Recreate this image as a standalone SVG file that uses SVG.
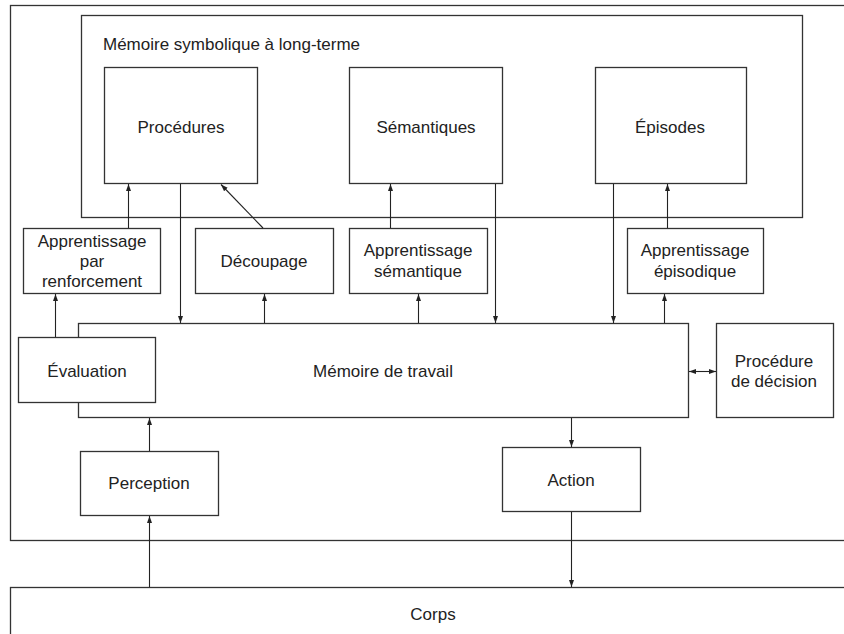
<svg xmlns="http://www.w3.org/2000/svg" width="844" height="634" viewBox="0 0 844 634">
<style>
.box{fill:#fff;stroke:#333;stroke-width:1.3}
.frame{fill:none;stroke:#333;stroke-width:1.3}
text{font-family:"Liberation Sans",Arial,sans-serif;font-size:17px;fill:#222;text-anchor:middle}
.c line{stroke:#222;stroke-width:1.1;marker-end:url(#ah)}
</style>
<defs>
<marker id="ah" markerUnits="userSpaceOnUse" markerWidth="8" markerHeight="6" refX="7" refY="3" orient="auto-start-reverse">
<path d="M0,0.5 L7,3 L0,5.5 z" fill="#222"/>
</marker>
</defs>
<rect x="0" y="0" width="844" height="634" fill="#fff"/>
<g id="systeme"><rect class="frame" x="10.5" y="5.5" width="845" height="535"/></g>
<g id="corps"><rect class="box" x="10.5" y="587.5" width="845" height="60"/><text x="433" y="620">Corps</text></g>
<g id="memoire-long-terme"><rect class="frame" x="81.5" y="15.5" width="721" height="202"/><text x="103" y="50" style="text-anchor:start">Mémoire symbolique à long-terme</text></g>
<g id="procedures"><rect class="box" x="104.5" y="67.5" width="153" height="116"/><text x="181" y="133">Procédures</text></g>
<g id="semantiques"><rect class="box" x="349.5" y="67.5" width="153" height="116"/><text x="426" y="133">Sémantiques</text></g>
<g id="episodes"><rect class="box" x="595.5" y="67.5" width="151" height="116"/><text x="670" y="133">Épisodes</text></g>
<g id="app-renforcement"><rect class="box" x="23.5" y="228.5" width="137" height="65"/><text x="92" y="247">Apprentissage</text><text x="92" y="267">par</text><text x="92" y="287">renforcement</text></g>
<g id="decoupage"><rect class="box" x="195.5" y="228.5" width="138" height="65"/><text x="264" y="267">Découpage</text></g>
<g id="app-semantique"><rect class="box" x="349.5" y="228.5" width="138" height="65"/><text x="418" y="256">Apprentissage</text><text x="418" y="277">sémantique</text></g>
<g id="app-episodique"><rect class="box" x="627.5" y="228.5" width="136" height="65"/><text x="695" y="256">Apprentissage</text><text x="695" y="277">épisodique</text></g>
<g id="memoire-travail"><rect class="box" x="78.5" y="323.5" width="610" height="94"/><text x="383" y="377">Mémoire de travail</text></g>
<g id="evaluation"><rect class="box" x="18.5" y="337.5" width="137" height="65"/><text x="87" y="377">Évaluation</text></g>
<g id="procedure-decision"><rect class="box" x="716.5" y="323.5" width="117" height="94"/><text x="774" y="367">Procédure</text><text x="774" y="387">de décision</text></g>
<g id="perception"><rect class="box" x="80.5" y="451.5" width="138" height="64"/><text x="149" y="489">Perception</text></g>
<g id="action"><rect class="box" x="502.5" y="447.5" width="138" height="64"/><text x="571" y="486">Action</text></g>
<g id="connecteurs" class="c">
<line x1="149.5" y1="451" x2="149.5" y2="418"/>
<line x1="149.5" y1="587" x2="149.5" y2="516"/>
<line x1="571.5" y1="418" x2="571.5" y2="447"/>
<line x1="571.5" y1="512" x2="571.5" y2="587"/>
<line x1="689" y1="371.5" x2="716" y2="371.5" style="marker-start:url(#ah)"/>
<line x1="55.5" y1="337" x2="55.5" y2="294"/>
<line x1="128.5" y1="228" x2="128.5" y2="184"/>
<line x1="180.5" y1="184" x2="180.5" y2="323"/>
<line x1="263" y1="228" x2="221" y2="184.5"/>
<line x1="264.5" y1="323" x2="264.5" y2="294"/>
<line x1="390.5" y1="228" x2="390.5" y2="184"/>
<line x1="418.5" y1="323" x2="418.5" y2="294"/>
<line x1="495.5" y1="184" x2="495.5" y2="323"/>
<line x1="613.5" y1="184" x2="613.5" y2="323"/>
<line x1="667.5" y1="228" x2="667.5" y2="184"/>
<line x1="664.5" y1="323" x2="664.5" y2="294"/>
</g>
</svg>
